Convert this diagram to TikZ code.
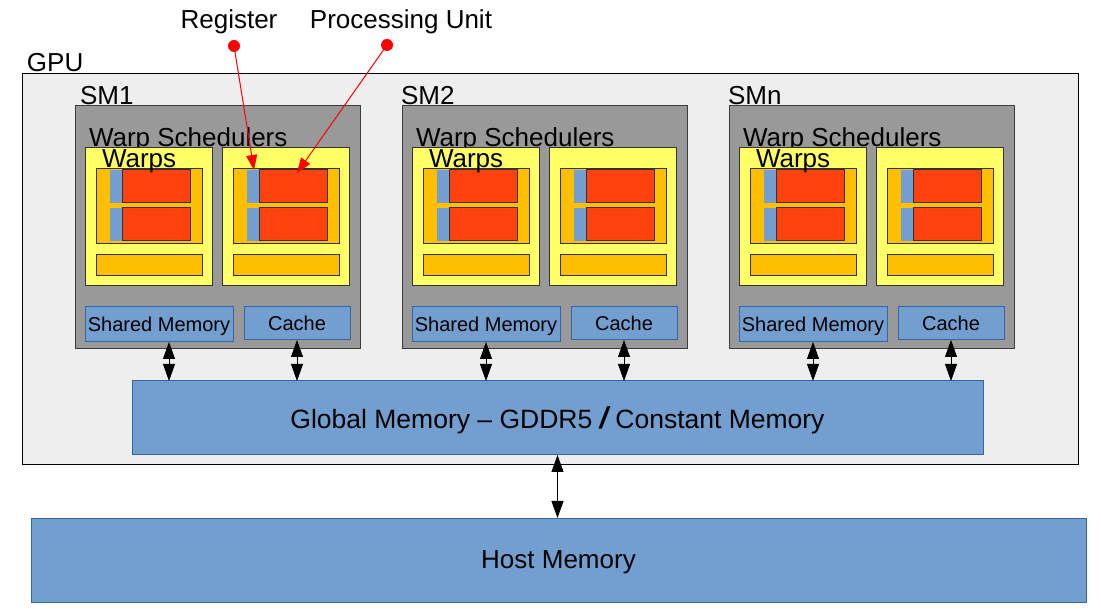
\documentclass[tikz,border=0pt]{standalone}
\usepackage{fontspec}
\setmainfont{Liberation Sans}
\usetikzlibrary{arrows.meta}
\definecolor{gpugray}{HTML}{EEEEEE}
\definecolor{smgray}{HTML}{999999}
\definecolor{smedge}{HTML}{3C3C3C}
\definecolor{darkedge}{HTML}{333333}
\definecolor{warpyellow}{HTML}{FFFF66}
\definecolor{warporange}{HTML}{FFBF00}
\definecolor{pured}{HTML}{FF420E}
\definecolor{memblue}{HTML}{729FCF}
\definecolor{memedge}{HTML}{3465A4}
\begin{document}
\begin{tikzpicture}
  [x=1pt,y=-1pt,
   every node/.style={inner sep=0pt,outer sep=0pt,font=\fontsize{26}{30}\selectfont},
   gpubox/.style={draw=black,fill=gpugray,line width=1pt,minimum width=1056pt,minimum height=391pt},
   smbox/.style={draw=smedge,fill=smgray,line width=1pt,minimum width=285pt,minimum height=243pt},
   warpbox/.style={draw=darkedge,fill=warpyellow,line width=1pt,minimum width=127pt,minimum height=138pt},
   corebox/.style={draw=darkedge,fill=warporange,line width=1pt,minimum width=106pt,minimum height=75pt},
   regbox/.style={fill=memblue,minimum width=12pt,minimum height=33pt},
   pubox/.style={draw=darkedge,fill=pured,line width=1pt,minimum width=68pt,minimum height=33pt},
   barbox/.style={draw=darkedge,fill=warporange,line width=1pt,minimum width=106pt,minimum height=21pt},
   membox/.style={draw=memedge,fill=memblue,line width=1pt,text depth=0pt},
   smallmem/.style={font=\fontsize{20}{24}\selectfont},
   lbl/.style={anchor=base west},
   dot/.style={circle,fill=red,minimum size=12pt},
   biarrow/.style={{Triangle[width=12pt,length=17pt]}-{Triangle[width=12pt,length=17pt]},line width=0.8pt},
   pointer/.style={red,-{Triangle[width=11pt,length=15pt]},line width=1pt}]
  \useasboundingbox (0,0) rectangle (1101,609);

  \node[gpubox] (gpu) at (550,269.5) {};
  \node[lbl] (gpulbl) at (27,72) {GPU};

  % streaming multiprocessors
  \foreach \i/\sx/\smlab/\lx in {1/75/SM1/80,2/402/SM2/401,3/729/SMn/728} {
    \node[smbox] (sm\i) at (\sx+142.5,227.5) {};
    \node[lbl] (smlbl\i) at (\lx,105) {\smlab};
    \node[lbl] (ws\i) at (\sx+14,147) {Warp Schedulers};
    \foreach \j/\wo in {1/10,2/147} {
      \node[warpbox] (w\i\j) at (\sx+\wo+63.5,217) {};
      \node[corebox] (c\i\j) at (\sx+\wo+64,206.5) {};
      \foreach \k/\ry in {1/186.5,2/224.5} {
        \node[regbox] (reg\i\j\k) at (\sx+\wo+31,\ry) {};
        \node[pubox] (pu\i\j\k) at (\sx+\wo+71,\ry) {};
      }
      \node[barbox] (bar\i\j) at (\sx+\wo+64,265.5) {};
    }
    \node[lbl] (wp\i) at (\sx+27,168) {Warps};
    \node[membox,smallmem,minimum width=148pt,minimum height=35pt] (shm\i) at (\sx+84,324.5) {Shared Memory};
    \node[membox,smallmem,minimum width=106pt,minimum height=33pt] (cache\i) at (\sx+222,323.5) {Cache};
  }

  \node[membox,font=\fontsize{26.5}{30}\selectfont,minimum width=851pt,minimum height=74pt] (gmem) at (557.5,418)
    {Global Memory -- GDDR5 {\fontsize{30}{30}\selectfont\bfseries\itshape /} Constant Memory};
  \node[membox,minimum width=1055pt,minimum height=84pt] (host) at (558.5,560) {Host Memory};

  \foreach \i/\ax in {1/10,2/0,3/0} {
    \draw[biarrow] ([xshift=\ax pt]shm\i.south) -- ([xshift=\ax pt]shm\i.south |- gmem.north);
    \draw[biarrow] (cache\i.south) -- (cache\i.south |- gmem.north);
  }
  \draw[biarrow] (gmem.south) -- (gmem.south |- host.north);

  % pointers
  \node[anchor=base] (reglbl) at (229,29) {Register};
  \node[anchor=base] (pulbl) at (401,29) {Processing Unit};
  \node[dot] (regdot) at (234,46) {};
  \node[dot] (pudot) at (387,45) {};
  \draw[pointer] (regdot.center) -- ([xshift=1pt]reg121.north);
  \draw[pointer] (pudot.center) -- ([xshift=4pt,yshift=-3pt]pu121.north);
\end{tikzpicture}
\end{document}
